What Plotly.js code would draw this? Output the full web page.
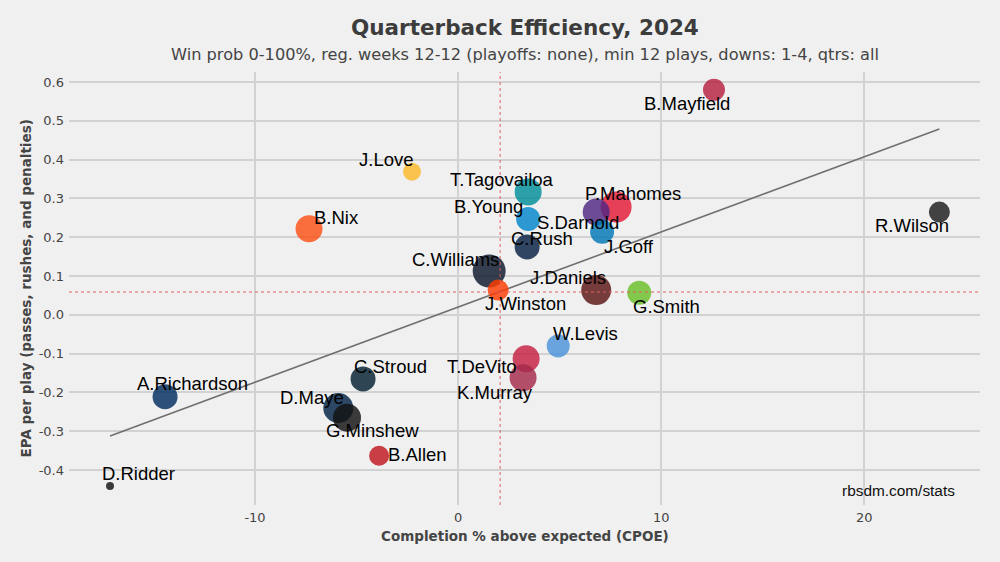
<!DOCTYPE html>
<html>
<head>
<meta charset="utf-8">
<script src="https://cdn.plot.ly/plotly-3.0.1.min.js"></script>
<style>
html,body{margin:0;padding:0;background:#f0f0f0;}
#chart{width:1000px;height:562px;}
</style>
</head>
<body>
<div id="chart"></div>
<script>
// ---- data ----
const players = ["B.Mayfield","R.Wilson","J.Love","B.Nix","T.Tagovailoa","B.Young","C.Rush","C.Williams","J.Winston","P.Mahomes","S.Darnold","J.Goff","J.Daniels","G.Smith","W.Levis","T.DeVito","K.Murray","C.Stroud","D.Maye","G.Minshew","B.Allen","A.Richardson","D.Ridder"];
const cpoe = [12.6, 23.7, -2.27, -7.34, 3.45, 3.45, 3.4, 1.53, 1.97, 7.78, 6.8, 7.09, 6.8, 8.92, 4.93, 3.35, 3.2, -4.68, -5.9, -5.47, -3.89, -14.43, -17.14];
const epa = [0.580, 0.265, 0.369, 0.222, 0.317, 0.247, 0.175, 0.113, 0.064, 0.278, 0.265, 0.214, 0.064, 0.057, -0.080, -0.113, -0.162, -0.165, -0.240, -0.265, -0.363, -0.211, -0.441];
const plays = [22, 21, 18, 27, 27, 24, 25, 33, 21, 31, 27, 24, 30, 24, 23, 27, 27, 25, 30, 28, 20, 25, 8];
const teamColors = ["#b5213e","#1b1b1b","#fbb829","#fb4f14","#008e97","#0085ca","#041e42","#0b162a","#ff3c00","#e31837","#4f2683","#0076b6","#5a1414","#69be28","#4b92db","#c41e3f","#a5294a","#03202f","#002244","#111111","#c0161d","#002c5f","#111111"];
const trendX = [-17.14, 23.7];
const trendY = [-0.312, 0.479];
const meanCpoe = 2.07;
const meanEpa = 0.059;
const xTicks = [-10, 0, 10, 20];
const xTickText = ["-10", "0", "10", "20"];
const yTicks = [-0.4, -0.3, -0.2, -0.1, 0.0, 0.1, 0.2, 0.3, 0.4, 0.5, 0.6];
const yTickText = ["-0.4", "-0.3", "-0.2", "-0.1", "0.0", "0.1", "0.2", "0.3", "0.4", "0.5", "0.6"];

// label offsets in px (layout only)
const labelShift = {
  "B.Mayfield":[-27,-14],"R.Wilson":[-27,-13],"J.Love":[-26,12],"B.Nix":[27,11],
  "T.Tagovailoa":[-26,12],"B.Young":[-40,13],"C.Rush":[15,8],"C.Williams":[-34,12],
  "J.Winston":[27,-13],"P.Mahomes":[17,14],"S.Darnold":[-18,-10],"J.Goff":[27,-15],
  "J.Daniels":[-28,13],"G.Smith":[27,-14],"W.Levis":[27,12],"T.DeVito":[-44,-8],
  "K.Murray":[-28,-15],"C.Stroud":[27,12],"D.Maye":[-26,11],"G.Minshew":[25,-13],
  "B.Allen":[38,1],"A.Richardson":[27,13],"D.Ridder":[28,12]
};

const traces = [
  {
    type:"scatter", mode:"lines", x:trendX, y:trendY,
    line:{color:"#707070", width:1.6}, hoverinfo:"skip", showlegend:false
  },
  {
    type:"scatter", mode:"markers", x:cpoe, y:epa, text:players,
    marker:{size:plays, color:teamColors, opacity:0.82, line:{width:0}},
    showlegend:false
  }
];

const annotations = players.map((p,i)=>({
  x:cpoe[i], y:epa[i], xref:"x", yref:"y", text:p, showarrow:false,
  xshift:labelShift[p][0], yshift:labelShift[p][1],
  font:{family:"Liberation Sans, Arial, sans-serif", size:18.5, color:"#000"}
}));

annotations.push(
  {xref:"paper", yref:"paper", x:0.5, y:1, yanchor:"middle", yshift:45, text:"<b>Quarterback Efficiency, 2024</b>", showarrow:false,
   font:{family:"DejaVu Sans", size:21.5, color:"#3c3c3c"}},
  {xref:"paper", yref:"paper", x:0.5, y:1, yanchor:"middle", yshift:18, text:"Win prob 0-100%, reg. weeks 12-12 (playoffs: none), min 12 plays, downs: 1-4, qtrs: all", showarrow:false,
   font:{family:"DejaVu Sans", size:16.2, color:"#444"}},
  {xref:"paper", yref:"paper", x:0.5, y:0, yanchor:"middle", yshift:-31, text:"<b>Completion % above expected (CPOE)</b>", showarrow:false,
   font:{family:"DejaVu Sans", size:13.5, color:"#444"}},
  {xref:"paper", yref:"paper", x:0, y:0.5, xanchor:"center", yanchor:"middle", xshift:-44, textangle:-90, text:"<b>EPA per play (passes, rushes, and penalties)</b>", showarrow:false,
   font:{family:"DejaVu Sans", size:13.5, color:"#444"}},
  {xref:"x", yref:"paper", x:21.7, y:0, yanchor:"middle", yshift:15, text:"rbsdm.com/stats", showarrow:false,
   font:{family:"Liberation Sans, Arial, sans-serif", size:15.4, color:"#111"}}
);

const layout = {
  width:1000, height:562,
  paper_bgcolor:"#f0f0f0", plot_bgcolor:"#f0f0f0",
  margin:{l:69, r:20, t:72, b:57},
  xaxis:{range:[-19.16, 25.7], tickvals:xTicks, ticktext:xTickText, showgrid:true, gridcolor:"#d2d2d2", gridwidth:2,
         zeroline:false, showline:false, ticks:"", ticklabelstandoff:3,
         tickfont:{family:"DejaVu Sans", size:13, color:"#444"}},
  yaxis:{range:[-0.49, 0.626], tickvals:yTicks, ticktext:yTickText, showgrid:true, gridcolor:"#d2d2d2", gridwidth:2,
         zeroline:false, showline:false, ticks:"", ticklabelstandoff:4,
         tickfont:{family:"DejaVu Sans", size:13, color:"#444"}},
  shapes:[
    {type:"line", xref:"x", yref:"paper", x0:meanCpoe, x1:meanCpoe, y0:0, y1:1, line:{color:"#e06060", width:1, dash:"dot"}},
    {type:"line", xref:"paper", yref:"y", x0:0, x1:1, y0:meanEpa, y1:meanEpa, line:{color:"#e06060", width:1, dash:"dot"}}
  ],
  annotations:annotations,
  showlegend:false, hovermode:"closest"
};

Plotly.newPlot("chart", traces, layout, {displayModeBar:false, staticPlot:true});
</script>
</body>
</html>
